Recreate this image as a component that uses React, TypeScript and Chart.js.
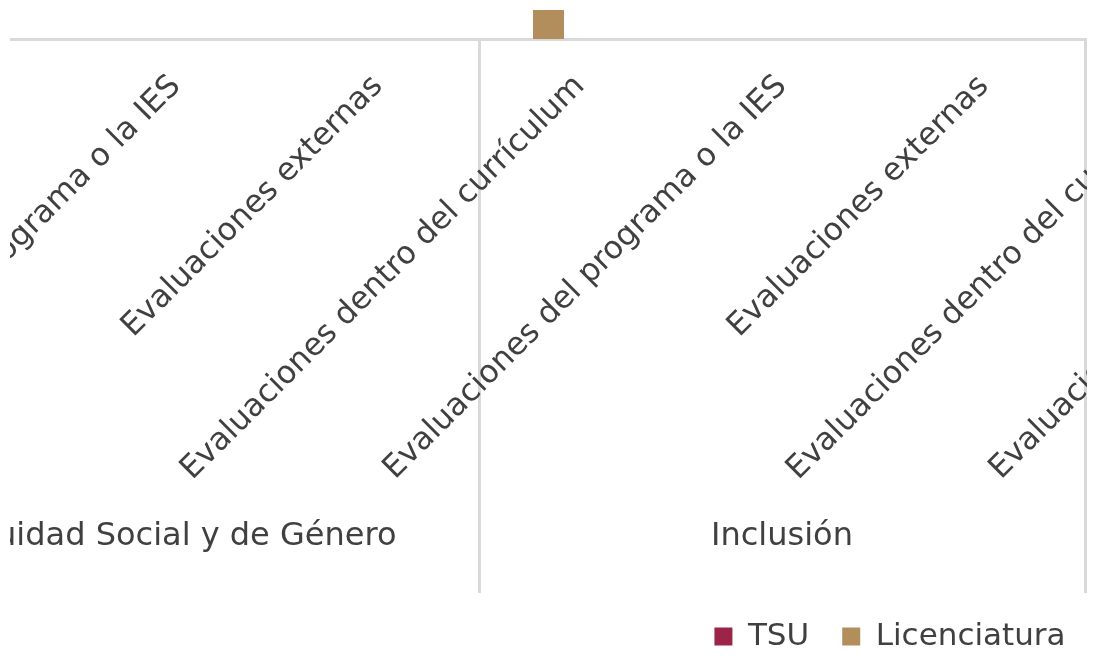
import React, { useEffect, useRef } from "react";
import { Chart, registerables } from "chart.js";

Chart.register(...registerables);

const groupLabels = ["Equidad Social y de Género", "Inclusión", ""];
const subLabels = [
  "Evaluaciones dentro del currículum",
  "Evaluaciones del programa o la IES",
  "Evaluaciones externas",
  "Evaluaciones dentro del currículum",
  "Evaluaciones del programa o la IES",
  "Evaluaciones externas",
  "Evaluaciones dentro del currículum",
  "Evaluaciones del programa o la IES",
  "Evaluaciones externas",
];
const tsuValues = [0, 0, 0, 0, 0, 0, 0, 0, 0];
const licValues = [0, 0, 0, 10, 0, 0, 0, 0, 0];
const yTicks = [0, 100];

const FONT = "'DejaVu Sans', sans-serif";
const TEXT = "#404040";
const LINE = "#d9d9d9";

export default function App() {
  const ref = useRef<HTMLCanvasElement | null>(null);

  useEffect(() => {
    if (!ref.current) return;
    const chart = new Chart(ref.current, {
      type: "bar",
      data: {
        labels: subLabels,
        datasets: [
          {
            label: "Licenciatura",
            data: licValues,
            backgroundColor: "#B38E5D",
            categoryPercentage: 0.6238,
            barPercentage: 0.492,
          },
          {
            label: "TSU",
            data: tsuValues,
            backgroundColor: "#9D2449",
            categoryPercentage: 0.6238,
            barPercentage: 0.492,
          },
        ],
      },
      options: {
        responsive: false,
        devicePixelRatio: 1,
        animation: false,
        layout: { padding: 0, autoPadding: false },
        plugins: {
          tooltip: { enabled: false },
          legend: {
            position: "bottom",
            reverse: true,
            labels: {
              boxWidth: 18,
              boxHeight: 18,
              padding: 33,
              color: TEXT,
              font: { family: FONT, size: 31 },
            },
          },
        },
        scales: {
          x: {
            type: "category",
            position: "bottom",
            offset: true,
            grid: {
              display: true,
              offset: true,
              drawOnChartArea: false,
              drawTicks: true,
              tickLength: 456,
              lineWidth: 3,
              color: (ctx: any) =>
                ctx.index !== undefined && ctx.index % 3 === 0 ? LINE : "rgba(0,0,0,0)",
            },
            border: { display: true, color: LINE, width: 3 },
            ticks: {
              autoSkip: false,
              minRotation: 45,
              maxRotation: 45,
              padding: -427,
              color: TEXT,
              font: { family: FONT, size: 31.5 },
            },
            afterFit: (s: any) => {
              s.height = 456;
              s.paddingLeft = 0;
              s.paddingRight = 0;
            },
          },
          x2: {
            type: "category",
            position: "bottom",
            labels: groupLabels,
            offset: true,
            grid: {
              display: true,
              offset: true,
              drawOnChartArea: false,
              drawTicks: true,
              tickLength: 98,
              lineWidth: 3,
              color: LINE,
            },
            border: { display: false },
            ticks: {
              autoSkip: false,
              maxRotation: 0,
              minRotation: 0,
              padding: -76,
              color: TEXT,
              font: { family: FONT, size: 32 },
            },
            afterFit: (s: any) => {
              s.height = 93;
              s.paddingLeft = 0;
              s.paddingRight = 0;
            },
          },
          y: {
            position: "right",
            min: yTicks[0],
            max: yTicks[1],
            grid: { display: false },
            border: { display: false },
            ticks: { display: false },
            afterFit: (s: any) => {
              s.width = 216;
            },
          },
        },
      },
    });
    return () => chart.destroy();
  }, []);

  return (
    <div
      style={{
        position: "fixed",
        left: 0,
        top: 0,
        width: 1094,
        height: 666,
        overflow: "hidden",
        background: "#fff",
      }}
    >
      <div
        style={{
          position: "absolute",
          left: 10,
          top: 0,
          width: 1077,
          height: 666,
          overflow: "hidden",
        }}
      >
        <canvas
          ref={ref}
          width={2034}
          height={913}
          style={{ position: "absolute", left: -137, top: -251, width: 2034, height: 913 }}
        />
      </div>
    </div>
  );
}
